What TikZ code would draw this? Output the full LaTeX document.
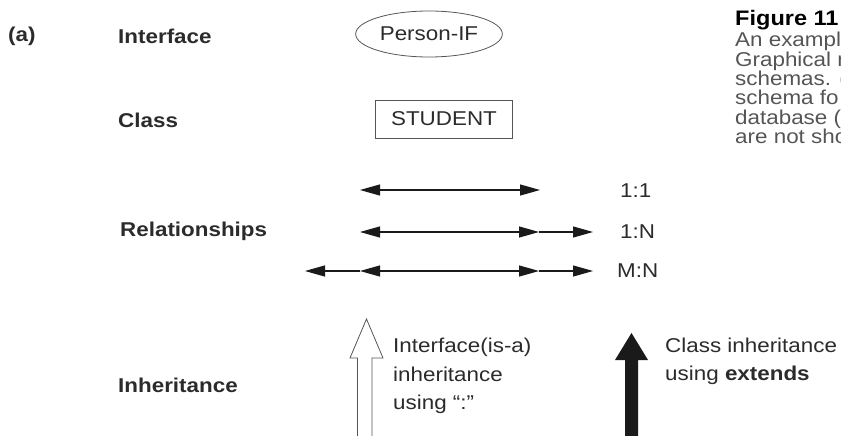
\documentclass[tikz,border=0pt]{standalone}
\usepackage{fontspec}
\setmainfont{Liberation Sans}
\usetikzlibrary{arrows.meta, shapes.geometric}
\definecolor{cink}{HTML}{2B2B2B}
\definecolor{cgrey}{HTML}{555555}
\definecolor{cline}{HTML}{1A1A1A}
\tikzset{
  every picture/.style={x=1pt, y=-1pt, >={Triangle[length=20pt, width=11pt]}},
  txt/.style={font=\fontsize{20}{28.5}\selectfont, text=cink, anchor=west, align=left, inner sep=0pt, xscale=1.12},
  rowlabel/.style={txt, font=\fontsize{20}{23}\selectfont\bfseries},
  capline/.style={txt, font=\fontsize{20}{19.4}\selectfont, text=cgrey},
  ifshape/.style={ellipse, draw=cgrey, line width=0.8pt, inner sep=0pt, minimum width=131pt, minimum height=46pt, font=\fontsize{20}{23}\selectfont, text=cink, xscale=1.12},
  clshape/.style={rectangle, draw=cgrey, line width=0.8pt, inner sep=0pt, minimum width=123pt, minimum height=38pt, font=\fontsize{20}{23}\selectfont, text=cink, xscale=1.12},
  rel/.style={draw=cline, line width=1.2pt},
  hollow/.style={draw=cgrey, fill=white, line width=0.8pt},
}
\begin{document}
\begin{tikzpicture}
  \useasboundingbox (0,0) rectangle (841,436);
  % left column
  \node[rowlabel] (tag) at (8,36) {(a)};
  \node[rowlabel] (lif) at (118,36) {Interface};
  \node[rowlabel] (lcl) at (118,120) {Class};
  \node[rowlabel] (lrel) at (120,231) {Relationships};
  \node[rowlabel] (linh) at (118,385) {Inheritance};
  % symbols
  \node[ifshape] (person) at (429,34) {Person-IF};
  \node[clshape] (student) at (444,119) {STUDENT};
  \coordinate (a1) at (360,190); \coordinate (b1) at (540,190);
  \coordinate (a2) at (360,232); \coordinate (b2) at (539,232); \coordinate (c2) at (593,232);
  \coordinate (z3) at (305,271); \coordinate (a3) at (360,271); \coordinate (b3) at (539,271); \coordinate (c3) at (593,271);
  \draw[rel, <->] (a1) -- (b1);
  \draw[rel, <->] (a2) -- (b2); \draw[rel, ->] (b2) -- (c2);
  \draw[rel, <-] (z3) -- (a3); \draw[rel, <->] (a3) -- (b3); \draw[rel, ->] (b3) -- (c3);
  \node[txt] (one) at (620,191) {1:1};
  \node[txt] (onen) at (620,232) {1:N};
  \node[txt] (mn) at (617,271) {M:N};
  % inheritance arrows
  \draw[hollow] (357.5,440) -- (357.5,358) -- (350,358) -- (366.5,319) -- (383,358) -- (372,358) -- (372,440);
  \fill[cline] (625,440) -- (625,360) -- (615,360) -- (631.5,333) -- (648,360) -- (638,360) -- (638,440) -- cycle;
  \node[txt] (isa) at (393,376) {Interface(is-a)\\inheritance\\using ``:''};
  \node[txt] (ext) at (665,361.5) {Class inheritance\\using \textbf{extends}};
  % caption, cut at the right edge
  \node[rowlabel, font=\fontsize{21}{23}\selectfont\bfseries, text=black] (fig) at (735,20) {Figure 11};
  \node[capline] (capt) at (735,88) {An exampl\\Graphical n\\schemas. (\\schema fo\\database (\\are not sho};
\end{tikzpicture}
\end{document}
